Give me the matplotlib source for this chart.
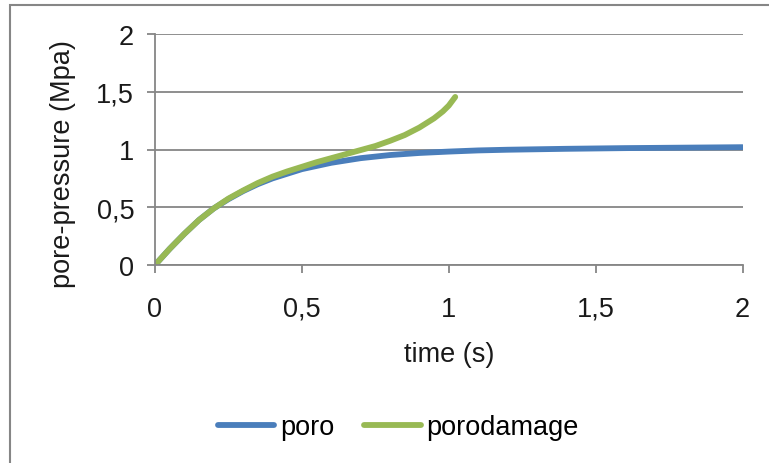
import matplotlib.pyplot as plt
from matplotlib.patches import Rectangle
from matplotlib.ticker import FuncFormatter

# pore-pressure over time, with and without damage
t_poro = [0, 0.05, 0.1, 0.15, 0.2, 0.25, 0.3, 0.35, 0.4, 0.45, 0.5, 0.6, 0.7,
          0.8, 0.9, 1.0, 1.1, 1.2, 1.4, 1.6, 1.8, 2.0]
p_poro = [0, 0.14, 0.27, 0.39, 0.49, 0.57, 0.64, 0.70, 0.75, 0.79, 0.83, 0.885,
          0.925, 0.952, 0.970, 0.982, 0.992, 0.998, 1.006, 1.012, 1.016, 1.02]

t_damage = [0, 0.05, 0.1, 0.15, 0.2, 0.25, 0.3, 0.35, 0.4, 0.45, 0.5, 0.55,
            0.6, 0.65, 0.7, 0.75, 0.8, 0.85, 0.9, 0.95, 0.98, 1.0, 1.022]
p_damage = [0, 0.14, 0.27, 0.39, 0.49, 0.575, 0.645, 0.71, 0.765, 0.81, 0.85,
            0.89, 0.925, 0.96, 0.995, 1.03, 1.075, 1.125, 1.19, 1.27, 1.33,
            1.38, 1.455]

xticks = [0, 0.5, 1, 1.5, 2]
yticks = [0, 0.5, 1, 1.5, 2]

plt.rcParams['font.family'] = ['Liberation Sans', 'DejaVu Sans']
grey = '#868686'
ink = '#1a1a1a'
fs = 19.5

fig = plt.figure(figsize=(7.69, 4.64), dpi=100)
ax = fig.add_axes([155 / 769, 1 - 266 / 464, (742.5 - 155) / 769, (266 - 35) / 464])

ax.plot(t_poro, p_poro, color='#4A7EBB', lw=4.2, solid_capstyle='round', label='poro')
ax.plot(t_damage, p_damage, color='#98B954', lw=4.2, solid_capstyle='round', label='porodamage')

ax.set_xlim(0, 2)
ax.set_ylim(0, 2)
ax.set_xticks(xticks)
ax.set_yticks(yticks)
comma = FuncFormatter(lambda v, pos: ('%g' % v).replace('.', ','))
ax.xaxis.set_major_formatter(comma)
ax.yaxis.set_major_formatter(comma)

ax.grid(axis='y', color=grey, lw=1.3)
ax.set_axisbelow(True)
for side in ['top', 'right']:
    ax.spines[side].set_visible(False)
for side in ['left', 'bottom']:
    ax.spines[side].set_color(grey)
    ax.spines[side].set_linewidth(1.3)
ax.tick_params(axis='y', length=6, width=1.3, color=grey, pad=9, labelsize=fs, labelcolor=ink)
ax.tick_params(axis='x', length=6, width=1.3, color=grey, pad=16, labelsize=fs, labelcolor=ink)

ax.set_xlabel('time (s)', fontsize=fs, color=ink)
ax.xaxis.set_label_coords(0.5, -(355 - 266) / 231, transform=ax.transAxes)
ax.set_ylabel('pore-pressure (Mpa)', fontsize=fs, color=ink)
ax.yaxis.set_label_coords(-(155 - 63) / 587.5, (266 - 164) / 231)
ax.xaxis.label.set_va('center')
ax.yaxis.label.set_va('center')

fig.legend(loc='center', bbox_to_anchor=(398 / 769, 1 - 428 / 464), ncol=2,
           frameon=False, fontsize=fs, handlelength=2.1, handletextpad=0.2,
           columnspacing=1.1)

# chart frame
fig.patches.append(Rectangle((10 / 769, -0.05), 1.05, 1 - 6 / 464 + 0.05,
                             transform=fig.transFigure, fill=False,
                             edgecolor=grey, lw=1.5))

fig.savefig('out.png', dpi=100)
